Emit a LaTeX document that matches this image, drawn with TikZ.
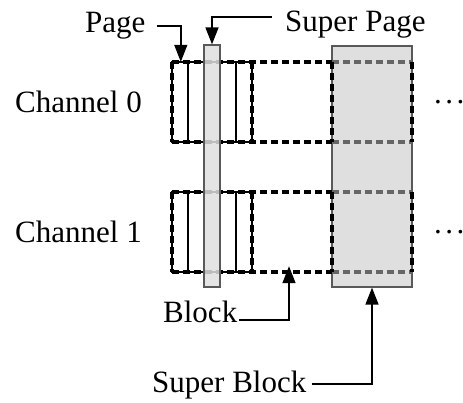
\documentclass[tikz,border=0pt]{standalone}
\usepackage{fontspec}
\setmainfont{Liberation Serif}
\usetikzlibrary{positioning,arrows.meta}

\begin{document}
\begin{tikzpicture}[x=1pt,y=-1pt,
    lbl/.style={inner sep=0pt,anchor=base west,font=\fontsize{31}{31}\selectfont},
    pagebox/.style={draw,line width=1.3pt,minimum width=16pt,minimum height=80pt,inner sep=0pt},
    blockbox/.style={minimum width=80pt,minimum height=80pt,inner sep=0pt},
    dashline/.style={line width=3.5pt,dash pattern=on 7pt off 4pt},
    sbox/.style={draw=gray!70!black,line width=1.3pt,fill=gray!25,inner sep=0pt},
    ptr/.style={line width=1.5pt,-{Triangle[length=17pt,width=13pt]}}]
    \useasboundingbox (0,0) rectangle (463,403);

    % Super block (behind)
    \node[sbox,minimum width=80pt,minimum height=241pt] (sblk) at (372,166.5) {};

    % Channel 0
    \node[pagebox] (p00) at (180,102) {};
    \node[pagebox] (p01) at (196,102) {};
    \node[pagebox] (p02) at (212,102) {};
    \node[pagebox] (p03) at (228,102) {};
    \node[pagebox] (p04) at (244,102) {};
    \node[blockbox] (b00) at (212,102) {};
    \node[blockbox] (b01) at (292,102) {};
    \node[blockbox] (b02) at (372,102) {};
    \draw[dashline] (b00.north west) -- (b01.north east) (b00.south west) -- (b01.south east);
    \draw[dashline,gray!80!black] (b02.north west) -- (b02.north east) (b02.south west) -- (b02.south east);
    \draw[dashline] (b00.north west) -- (b00.south west) (b01.north west) -- (b01.south west)
        (b02.north west) -- (b02.south west) (b02.north east) -- (b02.south east);
    \node[lbl] (ch0) at (15,113) {Channel 0};
    \node[lbl] (dots0) at (434,104) {.\kern3.5pt.\kern3.5pt.};

    % Channel 1
    \node[pagebox] (p10) at (180,232) {};
    \node[pagebox] (p11) at (196,232) {};
    \node[pagebox] (p12) at (212,232) {};
    \node[pagebox] (p13) at (228,232) {};
    \node[pagebox] (p14) at (244,232) {};
    \node[blockbox] (b10) at (212,232) {};
    \node[blockbox] (b11) at (292,232) {};
    \node[blockbox] (b12) at (372,232) {};
    \draw[dashline] (b10.north west) -- (b11.north east) (b10.south west) -- (b11.south east);
    \draw[dashline,gray!80!black] (b12.north west) -- (b12.north east) (b12.south west) -- (b12.south east);
    \draw[dashline] (b10.north west) -- (b10.south west) (b11.north west) -- (b11.south west)
        (b12.north west) -- (b12.south west) (b12.north east) -- (b12.south east);
    \node[lbl] (ch1) at (15,243) {Channel 1};
    \node[lbl] (dots1) at (434,234) {.\kern3.5pt.\kern3.5pt.};

    % Super page (on top)
    \node[sbox,fill opacity=0.85,minimum width=16pt,minimum height=242pt] (spg) at (212,166) {};

    % Labels and pointers
    \node[lbl] (lpage) at (85,33) {Page};
    \node[lbl] (lspage) at (285,32) {Super Page};
    \node[lbl] (lblock) at (163,323) {Block};
    \node[lbl] (lsblock) at (152,392) {Super Block};

    \draw[ptr] ([xshift=11pt,yshift=7pt]lpage.base east) -| ([xshift=9pt]b00.north west);
    \draw[ptr] ([xshift=-13pt,yshift=15pt]lspage.base west) -| (spg.north);
    \draw[ptr] ([xshift=2pt,yshift=3pt]lblock.base east) -| ([xshift=-3pt,yshift=6pt]b11.south);
    \draw[ptr] ([xshift=5pt,yshift=8pt]lsblock.base east) -| (sblk.south);
\end{tikzpicture}
\end{document}
